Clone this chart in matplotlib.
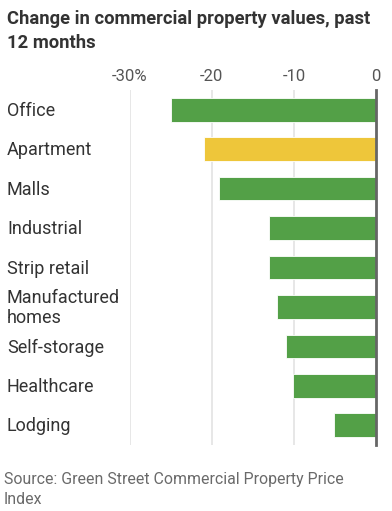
import matplotlib
matplotlib.use("Agg")
import matplotlib.pyplot as plt
from matplotlib.transforms import blended_transform_factory

categories = ["Office", "Apartment", "Malls", "Industrial", "Strip retail",
              "Manufactured\nhomes", "Self-storage", "Healthcare", "Lodging"]
values = [-25.0, -21.0, -19.1, -13.0, -13.0, -12.1, -11.0, -10.1, -5.1]
highlight = "Apartment"
tick_values = [-30, -20, -10, 0]
tick_labels = ["-30%", "-20", "-10", "0"]

GREEN = "#53a047"
YELLOW = "#eec63a"
TEXT = "#333333"

plt.rcParams['font.family'] = ['Roboto', 'DejaVu Sans']

W, H = 392, 511
fig = plt.figure(figsize=(W / 100, H / 100), dpi=100)
fig.patch.set_facecolor("white")

# axes placed in pixel terms
left, right, top, bottom = 129.7, 376.3, 90, 445
ax = fig.add_axes([left / W, 1 - bottom / H, (right - left) / W, (bottom - top) / H])

ypos = list(range(len(categories)))
colors = [YELLOW if c == highlight else GREEN for c in categories]
ax.barh(ypos, values, height=0.6, color=colors, edgecolor="#ffffff", linewidth=0.6, zorder=3)

ax.set_xlim(-30, 0)
ax.set_ylim(len(categories) - 0.5, -0.5)

ax.xaxis.tick_top()
ax.set_xticks(tick_values)
ax.set_xticklabels(tick_labels)
ax.tick_params(axis="x", length=0, pad=4, labelsize=12, labelcolor="#555555")
ax.set_yticks([])

for v in tick_values[:-1]:
    ax.axvline(v, color="#e3e3e3", linewidth=1.2, zorder=1)
ax.axvline(0, color="#666666", linewidth=2, zorder=4, clip_on=False)

for s in ax.spines.values():
    s.set_visible(False)

trans = blended_transform_factory(fig.transFigure, ax.transData)
for y, c in zip(ypos, categories):
    ax.text(7 / W, y + 0.03, c, transform=trans, ha="left", va="center",
            fontsize=13, color=TEXT, linespacing=1.15)

fig.text(7 / W, 1 - 10 / H, "Change in commercial property values, past\n12 months",
         ha="left", va="top", fontsize=13.2, fontweight="bold", color=TEXT, linespacing=1.45)

fig.text(4 / W, 1 - 472 / H, "Source: Green Street Commercial Property Price\nIndex",
         ha="left", va="top", fontsize=11.4, color="#6a6a6a", linespacing=1.4)

fig.savefig("out.png", dpi=100, facecolor="white")
